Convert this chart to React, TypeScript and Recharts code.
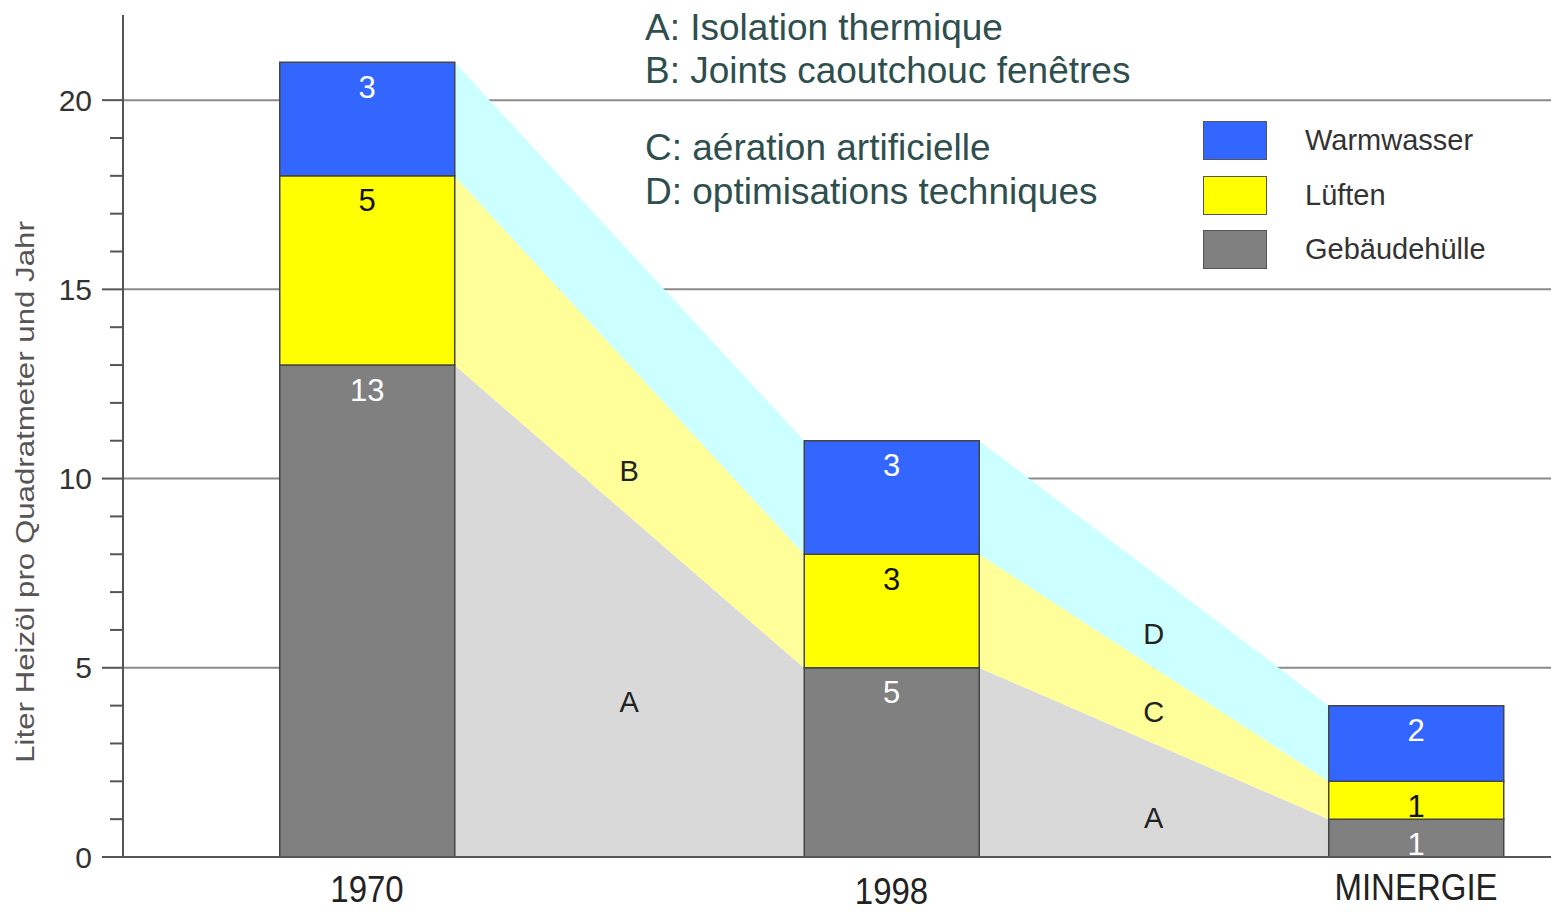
import React from 'react';
import {
  ComposedChart,
  Bar,
  Area,
  XAxis,
  YAxis,
  CartesianGrid,
  LabelList,
  Legend,
  ReferenceDot,
  Customized,
} from 'recharts';

// ---------- data ----------
const categories = ['1970', '1998', 'MINERGIE'];
const gebaeudehuelle = [13, 5, 1];
const lueften = [5, 3, 1];
const warmwasser = [3, 3, 2];

const yTicks = [0, 1, 2, 3, 4, 5, 6, 7, 8, 9, 10, 11, 12, 13, 14, 15, 16, 17, 18, 19, 20];
const majorTicks = [5, 10, 15, 20];

const legendItems = [
  { name: 'Warmwasser', color: '#3366ff' },
  { name: 'Lüften', color: '#ffff00' },
  { name: 'Gebäudehülle', color: '#808080' },
];

const annotationLines = [
  'A: Isolation thermique',
  'B: Joints caoutchouc fenêtres',
  'C: aération artificielle',
  'D: optimisations techniques',
];

const areaLabels = [
  { x: 0.5, y: 10.2, text: 'B' },
  { x: 0.5, y: 4.1, text: 'A' },
  { x: 1.5, y: 5.9, text: 'D' },
  { x: 1.5, y: 3.85, text: 'C' },
  { x: 1.5, y: 1.05, text: 'A' },
];

const yAxisTitle = 'Liter Heizöl pro Quadratmeter und Jahr';

// ---------- layout constants ----------
const FONT = '"Liberation Sans", Arial, sans-serif';
const X_MIN = -0.4652;
const X_MAX = 2.2574;
const Y_MAX = 22.25;
const BAR_PX = 175;
const HALF = 0.1668; // half bar width in x units

const COLORS = {
  geb: '#808080',
  lue: '#ffff00',
  warm: '#3366ff',
  gebArea: '#d9d9d9',
  lueArea: '#ffff99',
  warmArea: '#ccffff',
};

const barRows = categories.map((c, i) => ({
  x: i,
  name: c,
  g: gebaeudehuelle[i],
  l: lueften[i],
  w: warmwasser[i],
}));

const areaRows: { x: number; g: number; l: number; w: number }[] = [];
for (let i = 0; i < categories.length - 1; i++) {
  areaRows.push({ x: i + HALF, g: gebaeudehuelle[i], l: lueften[i], w: warmwasser[i] });
  areaRows.push({ x: i + 1 - HALF, g: gebaeudehuelle[i + 1], l: lueften[i + 1], w: warmwasser[i + 1] });
}

// ---------- renderers ----------
const YTick = (props: any) => {
  const { x, y, payload } = props;
  const v = payload.value;
  const major = v % 5 === 0;
  return (
    <g>
      <line x1={x - (major ? 21 : 13)} x2={x} y1={y} y2={y} stroke="#555" strokeWidth={2} />
      {major && (
        <text
          x={x - 31}
          y={y}
          textAnchor="end"
          dominantBaseline="central"
          fontSize={30}
          fill="#333"
          fontFamily={FONT}
        >
          {v}
        </text>
      )}
    </g>
  );
};

const X_TICK_DY = [32, 34, 30];
const XTick = (props: any) => {
  const { x, y, payload } = props;
  const i = Math.round(payload.value);
  const label = categories[i] ?? '';
  return (
    <text
      transform={`translate(${x},${y + (X_TICK_DY[i] ?? 32)}) scale(1,1.1)`}
      textAnchor="middle"
      dominantBaseline="central"
      fontSize={33}
      fill="#222"
      fontFamily={FONT}
    >
      {label}
    </text>
  );
};

const makeBarLabel = (color: string) => (p: any) => {
  const x = Number(p.x);
  const y = Number(p.y);
  const w = Number(p.width);
  return (
    <text
      x={x + w / 2}
      y={y + 25}
      textAnchor="middle"
      dominantBaseline="central"
      fontSize={31}
      fill={color}
      fontFamily={FONT}
    >
      {p.value}
    </text>
  );
};

const ANNOT_Y = [27, 70, 147, 191];
const Annotations = () => (
  <g>
    {annotationLines.map((t, i) => (
      <text
        key={i}
        x={645}
        y={ANNOT_Y[i]}
        dominantBaseline="central"
        fontSize={37}
        fill="#2f4f4f"
        fontFamily={FONT}
      >
        {t}
      </text>
    ))}
    <text
      transform="translate(25,492) rotate(-90) scale(1.25,1)"
      textAnchor="middle"
      dominantBaseline="central"
      fontSize={25}
      fill="#555"
      fontFamily={FONT}
    >
      {yAxisTitle}
    </text>
  </g>
);

const LegendContent = () => (
  <div style={{ fontFamily: FONT }}>
    {legendItems.map((it) => (
      <div key={it.name} style={{ display: 'flex', alignItems: 'center', height: 54.75 }}>
        <div
          style={{
            width: 64,
            height: 39,
            background: it.color,
            border: '1.5px solid #555',
            boxSizing: 'border-box',
          }}
        />
        <span style={{ marginLeft: 38, fontSize: 29, color: '#333', lineHeight: 1 }}>{it.name}</span>
      </div>
    ))}
  </div>
);

export default function App() {
  return (
    <div
      style={{
        position: 'absolute',
        left: 0,
        top: 0,
        width: 1551,
        height: 913,
        overflow: 'hidden',
        background: '#fff',
      }}
    >
      <ComposedChart
        width={1551}
        height={913}
        data={barRows}
        margin={{ top: 15, right: 0, bottom: 0, left: 0 }}
      >
        <CartesianGrid
          xAxisId="bars"
          horizontal
          vertical={false}
          horizontalValues={majorTicks}
          stroke="#8a8a8a"
          strokeWidth={2}
        />
        <XAxis
          xAxisId="areas"
          type="number"
          dataKey="x"
          domain={[X_MIN, X_MAX]}
          allowDataOverflow
          height={0}
          hide
        />
        <XAxis
          xAxisId="bars"
          type="number"
          dataKey="x"
          domain={[X_MIN, X_MAX]}
          allowDataOverflow
          ticks={[0, 1, 2]}
          interval={0}
          tick={(p: any) => <XTick {...p} />}
          tickLine={false}
          tickSize={0}
          tickMargin={0}
          height={56}
          axisLine={{ stroke: '#555', strokeWidth: 2 }}
        />
        <YAxis
          type="number"
          domain={[0, Y_MAX]}
          allowDataOverflow
          ticks={yTicks}
          interval={0}
          width={123}
          tick={(p: any) => <YTick {...p} />}
          tickLine={false}
          tickSize={0}
          tickMargin={0}
          axisLine={{ stroke: '#555', strokeWidth: 2 }}
        />

        <Area
          xAxisId="areas"
          data={areaRows}
          dataKey={(r: any) => [0, r.g]}
          type="linear"
          fill={COLORS.gebArea}
          fillOpacity={1}
          stroke="none"
          isAnimationActive={false}
        />
        <Area
          xAxisId="areas"
          data={areaRows}
          dataKey={(r: any) => [r.g, r.g + r.l]}
          type="linear"
          fill={COLORS.lueArea}
          fillOpacity={1}
          stroke="none"
          isAnimationActive={false}
        />
        <Area
          xAxisId="areas"
          data={areaRows}
          dataKey={(r: any) => [r.g + r.l, r.g + r.l + r.w]}
          type="linear"
          fill={COLORS.warmArea}
          fillOpacity={1}
          stroke="none"
          isAnimationActive={false}
        />

        <Bar
          xAxisId="bars"
          dataKey="g"
          stackId="s"
          barSize={BAR_PX}
          fill={COLORS.geb}
          stroke="#454545"
          strokeWidth={1.5}
          isAnimationActive={false}
        >
          <LabelList dataKey="g" content={makeBarLabel('#ffffff')} />
        </Bar>
        <Bar
          xAxisId="bars"
          dataKey="l"
          stackId="s"
          barSize={BAR_PX}
          fill={COLORS.lue}
          stroke="#454545"
          strokeWidth={1.5}
          isAnimationActive={false}
        >
          <LabelList dataKey="l" content={makeBarLabel('#111111')} />
        </Bar>
        <Bar
          xAxisId="bars"
          dataKey="w"
          stackId="s"
          barSize={BAR_PX}
          fill={COLORS.warm}
          stroke="#454545"
          strokeWidth={1.5}
          isAnimationActive={false}
        >
          <LabelList dataKey="w" content={makeBarLabel('#ffffff')} />
        </Bar>

        {areaLabels.map((a, i) => (
          <ReferenceDot
            key={i}
            xAxisId="areas"
            x={a.x}
            y={a.y}
            r={0}
            fill="none"
            stroke="none"
            label={{ value: a.text, position: 'center', fontSize: 29, fill: '#222', fontFamily: FONT }}
          />
        ))}

        <Legend
          layout="vertical"
          align="center"
          verticalAlign="middle"
          content={() => <LegendContent />}
          wrapperStyle={{ position: 'absolute', left: 1203, top: 113, width: 'auto', height: 'auto' }}
        />
        <Customized component={Annotations} />
      </ComposedChart>
    </div>
  );
}
